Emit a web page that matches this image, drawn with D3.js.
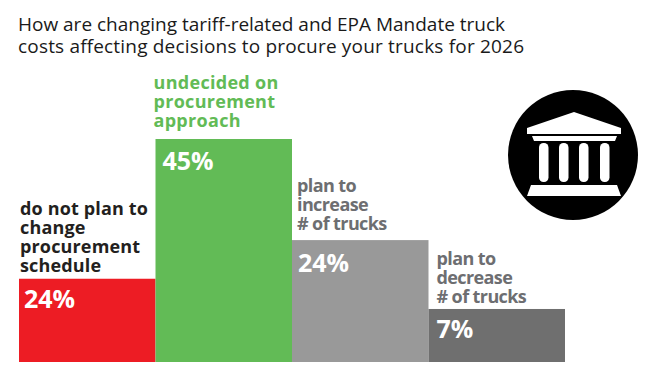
<!DOCTYPE html>
<html><head><meta charset="utf-8">
<script src="https://cdn.jsdelivr.net/npm/d3@7/dist/d3.min.js"></script>
<style>html,body{margin:0;background:#fff}svg{display:block}text{font-family:"Open Sans",Lato,sans-serif}</style>
</head><body><svg id="c" width="653" height="383"></svg>
<script>
const titleLines = ["How are changing tariff-related and EPA Mandate truck","costs affecting decisions to procure your trucks for 2026"];
const categories = ["do not plan to change procurement schedule","undecided on procurement approach","plan to increase # of trucks","plan to decrease # of trucks"];
const categoryLines = [["do not plan to","change","procurement","schedule"],["undecided on","procurement","approach"],["plan to","increase","# of trucks"],["plan to","decrease","# of trucks"]];
const valueLabels = ["24%","45%","24%","7%"];
// drawn heights as they appear in the picture (the reference's bars are not proportional to the printed labels)
const drawnLevels = [16.8,45,24.6,10.7];
const barColors = ["#ed1c24","#62bb56","#999999","#6f6f6f"];
const labelColors = ["#231f20","#62bb56","#6d6e71","#6d6e71"];

const svg = d3.select("#c");
const x = d3.scaleBand().domain(categories).range([19,565]).padding(0);
const y = d3.scaleLinear().domain([0,45]).range([362,139]);

// layout nudges, separate from the data
const titleWidths = [487,506];
const labelDx = [1,-2,5,8], labelGap = [7,12,10,6], labelSpacing = [0.15,0.3,-0.6,-0.6];
const valueDx = [5,7,6,8], valueDy = [29,31,32,29];

svg.append("g").selectAll("text").data(titleLines).join("text")
  .attr("x",18).attr("y",(d,i)=>31+i*22)
  .attr("font-size",19).attr("fill","#1a1a1a")
  .attr("textLength",(d,i)=>titleWidths[i]).attr("lengthAdjust","spacing").text(d=>d);

const g = svg.selectAll("g.bar").data(categories).join("g").attr("class","bar");
g.append("rect").attr("x",d=>x(d)).attr("width",x.bandwidth())
  .attr("y",(d,i)=>y(drawnLevels[i])).attr("height",(d,i)=>y(0)-y(drawnLevels[i]))
  .attr("fill",(d,i)=>barColors[i]);
g.append("text").attr("x",(d,i)=>x(d)+valueDx[i]).attr("y",(d,i)=>y(drawnLevels[i])+valueDy[i])
  .attr("font-size",25).attr("font-weight",700).attr("fill","#fff").text((d,i)=>valueLabels[i]);
g.each(function(d,i){
  const lines = categoryLines[i];
  d3.select(this).append("g").selectAll("text").data(lines).join("text")
    .attr("x",x(d)+labelDx[i])
    .attr("y",(l,j)=>y(drawnLevels[i])-labelGap[i]-(lines.length-1-j)*19)
    .attr("font-size",18).attr("font-weight",700).attr("letter-spacing",labelSpacing[i])
    .attr("fill",labelColors[i]).text(l=>l);
});

// institution icon
const icon = svg.append("g");
icon.append("circle").attr("cx",573).attr("cy",155).attr("r",65).attr("fill","#000");
const line = d3.line();
icon.append("path").attr("fill","#fff").attr("d",line([[574,112],[621,128],[621,134],[527,134],[527,128]])+"Z");
icon.append("path").attr("fill","#fff").attr("d",line([[532,136],[617,136],[615,141],[534,141]])+"Z");
[539,559,579,600].forEach(cx=>icon.append("rect").attr("x",cx).attr("y",143).attr("width",9.5).attr("height",39).attr("rx",4.5).attr("fill","#fff"));
icon.append("path").attr("fill","#fff").attr("d",line([[531,185],[617,185],[621,196],[527,196]])+"Z");
</script></body></html>
